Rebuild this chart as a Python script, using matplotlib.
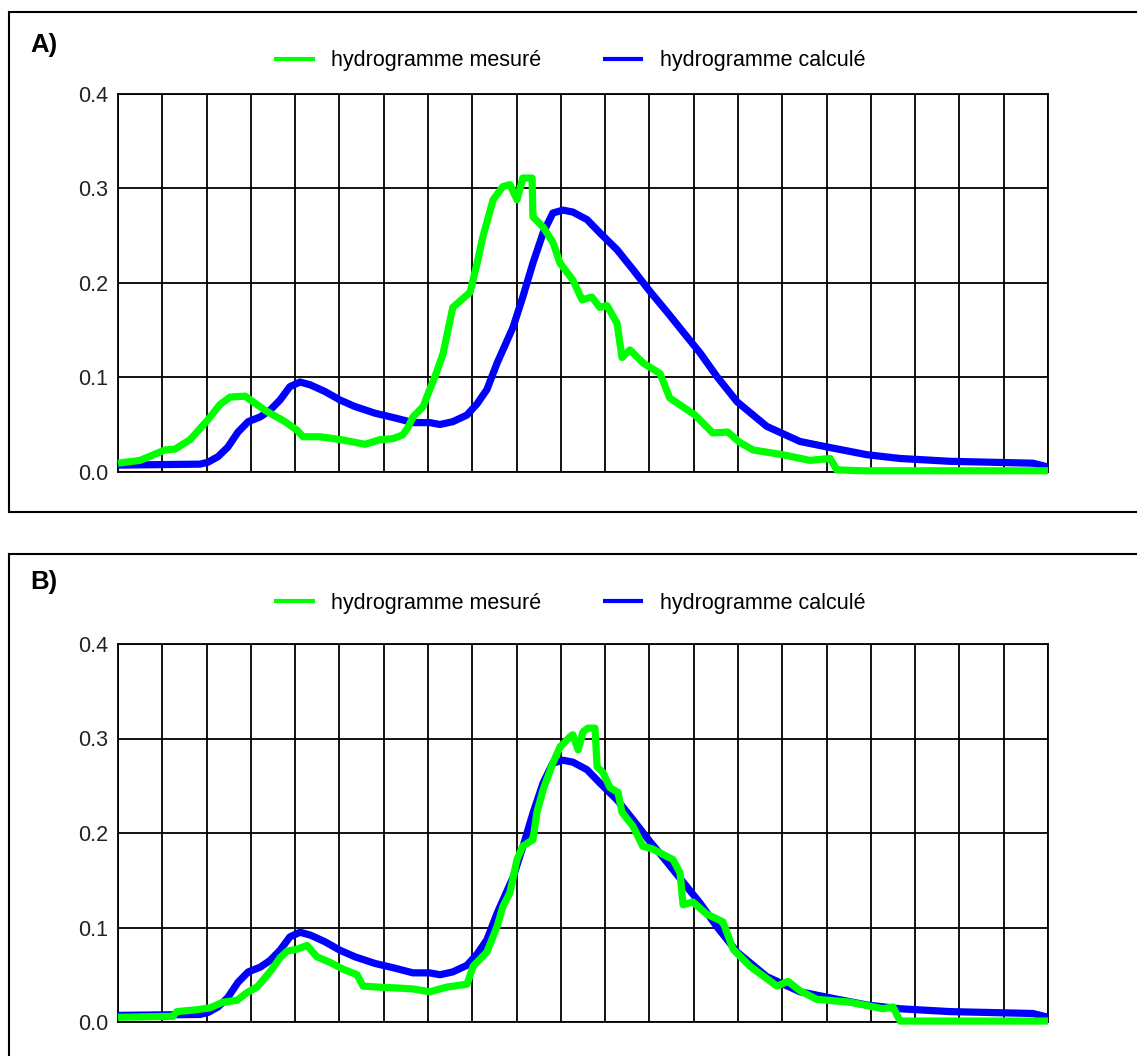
import numpy as np
import matplotlib
matplotlib.use("Agg")
import matplotlib.pyplot as plt
from matplotlib.lines import Line2D

plt.rcParams["font.family"] = ["Liberation Sans", "DejaVu Sans"]

# time in grid columns (21 columns on the x axis)
t_mes_a = [0.00, 0.50, 1.06, 1.29, 1.63, 2.03, 2.30, 2.53, 2.87, 3.05, 3.32, 3.77, 4.04, 4.18,
           4.56, 5.03, 5.58, 5.92, 6.21, 6.43, 6.55, 6.66, 6.89, 7.04, 7.16, 7.34, 7.56, 7.95,
           8.11, 8.24, 8.47, 8.69, 8.85, 9.01, 9.14, 9.35, 9.37, 9.60, 9.82, 9.98, 10.27, 10.48,
           10.70, 10.88, 11.04, 11.27, 11.38, 11.56, 11.86, 12.24, 12.46, 13.03, 13.43, 13.77,
           14.04, 14.34, 15.01, 15.62, 16.08, 16.23, 16.75, 21.00]
q_mes_a = [0.009, 0.012, 0.023, 0.024, 0.034, 0.055, 0.071, 0.079, 0.080, 0.074, 0.065, 0.053,
           0.044, 0.037, 0.037, 0.034, 0.029, 0.034, 0.035, 0.039, 0.047, 0.058, 0.069, 0.087,
           0.101, 0.125, 0.174, 0.190, 0.221, 0.249, 0.288, 0.302, 0.304, 0.288, 0.311, 0.311,
           0.270, 0.259, 0.243, 0.221, 0.203, 0.182, 0.185, 0.174, 0.176, 0.157, 0.121, 0.129,
           0.115, 0.104, 0.078, 0.060, 0.041, 0.042, 0.031, 0.023, 0.018, 0.012, 0.014, 0.002,
           0.001, 0.001]

t_mes_b = [0.00, 1.24, 1.33, 1.78, 2.08, 2.37, 2.69, 2.91, 3.14, 3.43, 3.66, 3.82, 4.04, 4.27,
           4.49, 4.79, 5.08, 5.40, 5.53, 5.85, 6.30, 6.66, 7.04, 7.43, 7.88, 8.02, 8.33, 8.56,
           8.69, 8.85, 9.01, 9.14, 9.37, 9.46, 9.60, 9.82, 9.98, 10.21, 10.27, 10.39, 10.50,
           10.61, 10.77, 10.82, 10.95, 11.11, 11.29, 11.38, 11.63, 11.85, 12.08, 12.40, 12.53,
           12.69, 12.76, 12.98, 13.30, 13.66, 13.89, 14.27, 14.88, 15.13, 15.40, 15.78, 16.53,
           17.27, 17.50, 17.66, 21.00]
q_mes_b = [0.005, 0.006, 0.011, 0.013, 0.015, 0.021, 0.023, 0.031, 0.037, 0.053, 0.068, 0.075,
           0.077, 0.081, 0.069, 0.063, 0.056, 0.050, 0.038, 0.037, 0.036, 0.035, 0.032, 0.037,
           0.040, 0.059, 0.074, 0.101, 0.122, 0.137, 0.172, 0.186, 0.193, 0.222, 0.246, 0.274,
           0.291, 0.302, 0.304, 0.288, 0.307, 0.311, 0.311, 0.270, 0.264, 0.248, 0.243, 0.222,
           0.207, 0.186, 0.183, 0.175, 0.172, 0.158, 0.124, 0.127, 0.114, 0.106, 0.077, 0.059,
           0.038, 0.043, 0.033, 0.024, 0.021, 0.014, 0.016, 0.001, 0.001]

t_calc = [0.00, 1.85, 2.03, 2.26, 2.48, 2.71, 2.94, 3.21, 3.43, 3.66, 3.88, 4.11, 4.34, 4.67,
          5.01, 5.35, 5.80, 6.25, 6.66, 7.04, 7.27, 7.56, 7.88, 8.11, 8.33, 8.56, 8.92, 9.14,
          9.37, 9.60, 9.82, 10.05, 10.27, 10.59, 10.88, 11.27, 11.63, 12.01, 12.40, 12.76,
          13.14, 13.52, 13.98, 14.65, 15.40, 16.14, 16.91, 17.66, 18.79, 20.66, 21.00]
q_calc = [0.007, 0.008, 0.010, 0.016, 0.026, 0.042, 0.053, 0.058, 0.065, 0.076, 0.090, 0.095,
          0.092, 0.085, 0.076, 0.069, 0.062, 0.057, 0.052, 0.052, 0.050, 0.053, 0.060, 0.072,
          0.087, 0.115, 0.153, 0.185, 0.221, 0.253, 0.274, 0.277, 0.275, 0.267, 0.253, 0.235,
          0.214, 0.191, 0.169, 0.148, 0.126, 0.101, 0.074, 0.048, 0.032, 0.025, 0.018, 0.014,
          0.011, 0.009, 0.005]

panels = [("A)", t_mes_a, q_mes_a), ("B)", t_mes_b, q_mes_b)]
yticks = [0.0, 0.1, 0.2, 0.3, 0.4]

W, H = 1137, 1056
fig = plt.figure(figsize=(W / 100, H / 100), dpi=100)


def px(x, y):
    return x / W, 1 - y / H


# panel geometry in pixels: (frame top, axes top, axes bottom, label baseline, legend y)
layout = [(12, 94, 471.7, 52, 60.7), (554, 644, 1022, 589, 603)]

for (label, t_mes, q_mes), (ftop, atop, abot, lab_y, leg_y) in zip(panels, layout):
    # outer frame
    fx0, fy0 = px(9, ftop)
    fx1, _ = px(W, ftop)
    fig.add_artist(Line2D([fx0, fx1], [fy0, fy0], color="black", lw=1.5))
    if ftop < 500:
        _, fyb = px(9, 512)
        fig.add_artist(Line2D([fx0, fx0], [fy0, fyb], color="black", lw=1.5))
        fig.add_artist(Line2D([fx0, fx1], [fyb, fyb], color="black", lw=1.5))
    else:
        fig.add_artist(Line2D([fx0, fx0], [fy0, 0], color="black", lw=1.5))

    x0, y0 = px(118, abot)
    ax = fig.add_axes([x0, y0, 930 / W, (abot - atop) / H])
    ax.plot(t_calc, q_calc, color="#0000ff", lw=5.2, solid_capstyle="butt",
            solid_joinstyle="round", clip_on=False, zorder=3, label="hydrogramme calculé")
    ax.plot(t_mes, q_mes, color="#00ff00", lw=5.2, solid_capstyle="butt",
            solid_joinstyle="round", clip_on=False, zorder=4, label="hydrogramme mesuré")

    ax.set_xlim(0, 21)
    ax.set_ylim(0, 0.4)
    ax.set_xticks(np.arange(22))
    ax.set_xticklabels([])
    ax.set_yticks(yticks)
    ax.set_yticklabels([f"{v:.1f}" for v in yticks], fontsize=15.5, color="#222222")
    ax.tick_params(length=0, pad=7)
    ax.grid(True, color="black", lw=1.3)
    ax.set_axisbelow(True)
    for s in ax.spines.values():
        s.set_linewidth(1.3)
        s.set_color("black")

    fig.text(*px(30, lab_y), label, fontsize=18.5, fontweight="bold", va="baseline")

    handles, labels = ax.get_legend_handles_labels()
    leg = ax.legend(handles[::-1], labels[::-1], ncol=2, frameon=False,
                    loc="center left", bbox_to_anchor=px(274, leg_y),
                    bbox_transform=fig.transFigure, fontsize=15.5,
                    handlelength=1.9, handletextpad=0.75, columnspacing=2.85,
                    borderpad=0, borderaxespad=0)
    for ln in leg.get_lines():
        ln.set_linewidth(3)

fig.savefig("out.png", dpi=100, facecolor="white")
